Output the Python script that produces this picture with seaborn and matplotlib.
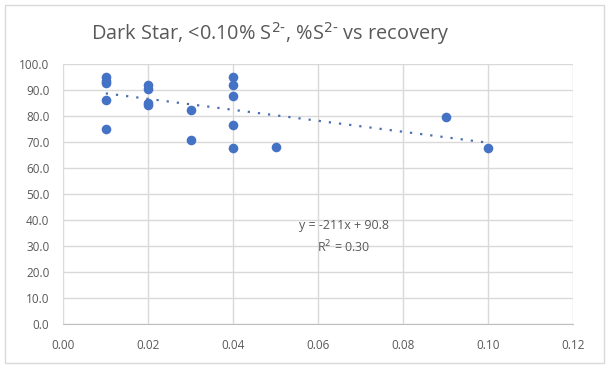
import numpy as np
import pandas as pd
import matplotlib.pyplot as plt
import seaborn as sns
from matplotlib.patches import Rectangle

# data
sulfide_pct = [0.01, 0.01, 0.01, 0.01, 0.01,
               0.02, 0.02, 0.02, 0.02,
               0.03, 0.03,
               0.04, 0.04, 0.04, 0.04, 0.04,
               0.05, 0.09, 0.10]
recovery = [94.9, 93.6, 92.6, 86.0, 75.1,
            91.9, 90.4, 84.9, 84.2,
            82.3, 70.9,
            94.9, 91.9, 87.8, 76.5, 67.8,
            68.1, 79.7, 67.8]
trend_slope = -211
trend_intercept = 90.8
r_squared = 0.30
x_ticks = [0.00, 0.02, 0.04, 0.06, 0.08, 0.10, 0.12]
y_ticks = [0, 10, 20, 30, 40, 50, 60, 70, 80, 90, 100]

df = pd.DataFrame({'S2': sulfide_pct, 'recovery': recovery})

sns.set_style('white')
plt.rcParams['font.family'] = ['Open Sans', 'DejaVu Sans']

blue = '#4472C4'
grey_txt = '#595959'
grid_col = '#d9d9d9'

fig = plt.figure(figsize=(6.11, 3.69), dpi=100)
ax = fig.add_axes([0.1036, 0.122, 0.8347, 0.7046])

sns.scatterplot(data=df, x='S2', y='recovery', ax=ax, color=blue, s=48,
                edgecolor=blue, linewidth=0, zorder=3)

# linear trendline (Excel style, dotted)
xs = np.array([min(sulfide_pct), max(sulfide_pct)])
ax.plot(xs, trend_slope * xs + trend_intercept, linestyle=(0, (1, 3.6)),
        color='#4a6fb0', linewidth=1.6, zorder=2)

ax.set_xlim(0, 0.12)
ax.set_ylim(0, 100)
ax.set_xticks(x_ticks)
ax.set_yticks(y_ticks)
ax.set_xticklabels([f'{t:.2f}' for t in x_ticks])
ax.set_yticklabels([f'{t:.1f}' for t in y_ticks])
ax.tick_params(axis='both', length=0, labelsize=8.5, colors=grey_txt)
ax.tick_params(axis='x', pad=11)
ax.tick_params(axis='y', pad=10)
ax.grid(True, color=grid_col, linewidth=1)
ax.set_axisbelow(True)
for s in ['top', 'right', 'left']:
    ax.spines[s].set_visible(False)
ax.spines['bottom'].set_color('#bfbfbf')
ax.set_xlabel('')
ax.set_ylabel('')

ax.text(0.066, 37.7, f'y = {trend_slope}x + {trend_intercept}', ha='center', va='center',
        fontsize=9, color=grey_txt)
ax.text(0.066, 29.6, f'R$^2$ = {r_squared:.2f}', ha='center', va='center',
        fontsize=9, color=grey_txt)

fig.text(0.442, 0.908, r'Dark Star, <0.10% S$^{2\text{-}}$, %S$^{2\text{-}}$ vs recovery',
         ha='center', va='center', fontsize=14.3, color=grey_txt)

# chart border
fig.patches.append(Rectangle((0.008, 0.016), 0.98, 0.97, transform=fig.transFigure,
                             fill=False, edgecolor='#d9d9d9', linewidth=1))

fig.savefig('out.png', dpi=100)
